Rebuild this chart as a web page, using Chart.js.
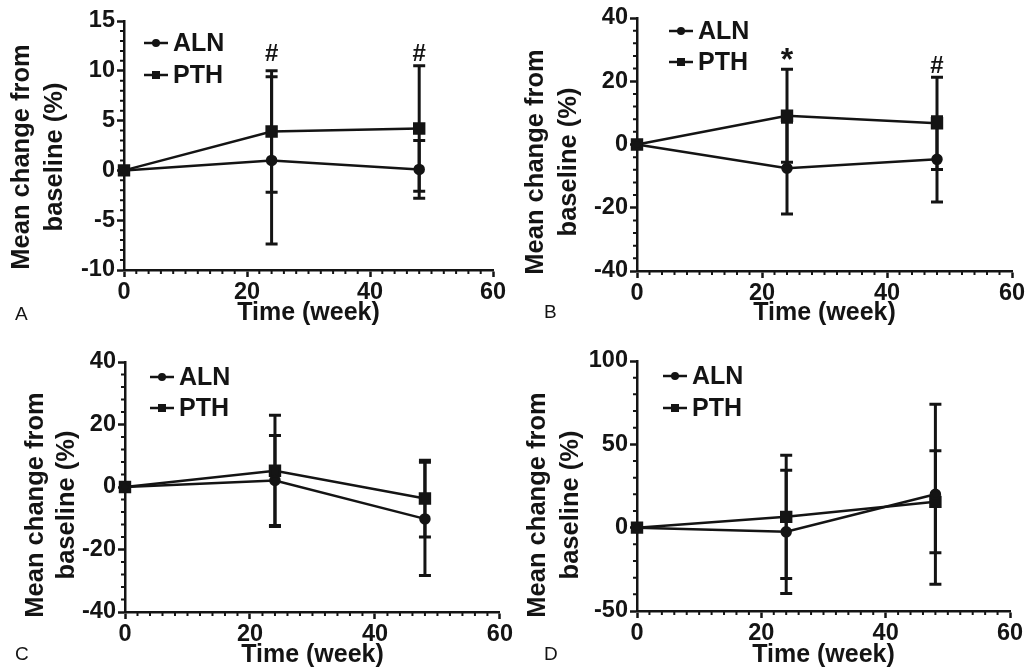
<!DOCTYPE html>
<html>
<head>
<meta charset="utf-8">
<script src="https://cdn.jsdelivr.net/npm/chart.js@4.4.1/dist/chart.umd.min.js"></script>
<style>
  html, body { margin: 0; padding: 0; background: #fff; }
  #wrap { position: relative; width: 1028px; height: 671px; }
  .panel { position: absolute; }
</style>
</head>
<body>
<div id="wrap">
  <div class="panel" style="left:0;top:0"><canvas id="chartA" width="514" height="335"></canvas></div>
  <div class="panel" style="left:514px;top:0"><canvas id="chartB" width="514" height="335"></canvas></div>
  <div class="panel" style="left:0;top:335px"><canvas id="chartC" width="514" height="336"></canvas></div>
  <div class="panel" style="left:514px;top:335px"><canvas id="chartD" width="514" height="336"></canvas></div>
</div>
<script>
// time points (weeks)
const weeks = [0, 24, 48];
const seriesNames = ['ALN', 'PTH'];

// A
const alnA = [0, 1.0, 0.1];
const alnAErr = [0, 8.4, 2.9];
const pthA = [0, 3.9, 4.2];
const pthAErr = [0, 6.1, 6.3];
const marksA = ['#', '#'];
const marksAX = [24, 48];
const marksAY = [11.6, 11.6];

// B
const alnB = [0, -7.5, -4.7];
const alnBErr = [0, 14.5, 13.5];
const pthB = [0, 9.1, 6.7];
const pthBErr = [0, 14.7, 14.6];
const marksB = ['*', '#'];
const marksBX = [24, 48];
const marksBY = [26.5, 24.6];

// C
const alnC = [0, 2.1, -10.2];
const alnCErr = [0, 14.4, 18.1];
const pthC = [0, 5.2, -3.7];
const pthCErr = [0, 17.8, 12.3];

// D
const alnD = [0, -2.5, 20.0];
const alnDErr = [0, 37, 54];
const pthD = [0, 6.5, 15.5];
const pthDErr = [0, 37, 30.6];

const INK = '#141414';
const FONT = '"Liberation Sans", Arial, Helvetica, sans-serif';

const panels = [
  { id: 'chartA', letter: 'A', aln: alnA, alnErr: alnAErr, pth: pthA, pthErr: pthAErr,
    yMin: -10, yMax: 15, yStep: 5, yMinor: 1, marks: marksA, marksX: marksAX, marksY: marksAY,
    area: { left: 124, right: 493, top: 21, bottom: 270 }, h: 335,
    yTitle: { x1: 22, x2: 55, y: 157 }, xTitlePad: 7, legend: { x: 144, y1: 43, y2: 75 }, letterPos: [15, 315] },
  { id: 'chartB', letter: 'B', aln: alnB, alnErr: alnBErr, pth: pthB, pthErr: pthBErr,
    yMin: -40, yMax: 40, yStep: 20, yMinor: 4, marks: marksB, marksX: marksBX, marksY: marksBY,
    area: { left: 123, right: 498, top: 18, bottom: 271 }, h: 335,
    yTitle: { x1: 22, x2: 55, y: 162 }, xTitlePad: 7, legend: { x: 155, y1: 31, y2: 62 }, letterPos: [30, 313] },
  { id: 'chartC', letter: 'C', aln: alnC, alnErr: alnCErr, pth: pthC, pthErr: pthCErr,
    yMin: -40, yMax: 40, yStep: 20, yMinor: 4, marks: [], marksX: [], marksY: [],
    area: { left: 125, right: 500, top: 27, bottom: 277 }, h: 336,
    yTitle: { x1: 36, x2: 67, y: 170 }, xTitlePad: 1, legend: { x: 150, y1: 42, y2: 73 }, letterPos: [15, 320] },
  { id: 'chartD', letter: 'D', aln: alnD, alnErr: alnDErr, pth: pthD, pthErr: pthDErr,
    yMin: -50, yMax: 100, yStep: 50, yMinor: 10, marks: [], marksX: [], marksY: [],
    area: { left: 123, right: 496, top: 26, bottom: 276 }, h: 336,
    yTitle: { x1: 24, x2: 57, y: 170 }, xTitlePad: 1, legend: { x: 149, y1: 41, y2: 73 }, letterPos: [30, 320] }
];

// error bars, minor ticks, legend, marks, titles
const extras = {
  id: 'extras',
  beforeDatasetsDraw(chart) {
    const { ctx, scales: { x, y } } = chart;
    ctx.save();
    ctx.strokeStyle = INK;
    ctx.lineWidth = 3;
    chart.data.datasets.forEach(ds => {
      ds.data.forEach((pt, i) => {
        const e = ds.err[i];
        if (!e) return;
        const px = x.getPixelForValue(pt.x);
        const top = y.getPixelForValue(pt.y + e);
        const bot = y.getPixelForValue(pt.y - e);
        ctx.beginPath();
        ctx.moveTo(px, top); ctx.lineTo(px, bot);
        ctx.moveTo(px - 6, top); ctx.lineTo(px + 6, top);
        ctx.moveTo(px - 6, bot); ctx.lineTo(px + 6, bot);
        ctx.stroke();
      });
    });
    ctx.restore();
  },
  afterDraw(chart, args, opts) {
    const p = opts.panel;
    const { ctx, scales: { x, y } } = chart;
    ctx.save();
    ctx.strokeStyle = INK;
    ctx.fillStyle = INK;

    // minor ticks
    ctx.lineWidth = 2;
    ctx.beginPath();
    for (let v = 0; v <= 60; v += 2) {
      if (v % 20 === 0) continue;
      const px = x.getPixelForValue(v);
      ctx.moveTo(px, y.bottom); ctx.lineTo(px, y.bottom + 4);
    }
    for (let v = p.yMin; v <= p.yMax; v += p.yMinor) {
      if (v % p.yStep === 0) continue;
      const py = y.getPixelForValue(v);
      ctx.moveTo(x.left, py); ctx.lineTo(x.left - 4, py);
    }
    ctx.stroke();

    // legend
    const lg = p.legend;
    ctx.lineWidth = 2.5;
    [lg.y1, lg.y2].forEach((ly, i) => {
      ctx.beginPath();
      ctx.moveTo(lg.x, ly); ctx.lineTo(lg.x + 24, ly);
      ctx.stroke();
      ctx.beginPath();
      if (i === 0) ctx.arc(lg.x + 12, ly, 4, 0, Math.PI * 2);
      else ctx.rect(lg.x + 8, ly - 4, 8, 8);
      ctx.fill();
      ctx.font = 'bold 25px ' + FONT;
      ctx.textBaseline = 'middle';
      ctx.textAlign = 'left';
      ctx.fillText(seriesNames[i], lg.x + 29, ly + 1);
    });

    // significance marks
    p.marks.forEach((m, i) => {
      ctx.font = (m === '*' ? 'bold 32px ' : 'bold 24px ') + FONT;
      ctx.textAlign = 'center';
      ctx.textBaseline = 'middle';
      ctx.fillText(m, x.getPixelForValue(p.marksX[i]), y.getPixelForValue(p.marksY[i]));
    });

    // y axis title
    ctx.font = 'bold 25.5px ' + FONT;
    ctx.textAlign = 'center';
    ctx.textBaseline = 'middle';
    [[p.yTitle.x1, 'Mean change from'], [p.yTitle.x2, 'baseline (%)']].forEach(([tx, t]) => {
      ctx.save();
      ctx.translate(tx, p.yTitle.y);
      ctx.rotate(-Math.PI / 2);
      ctx.fillText(t, 0, 0);
      ctx.restore();
    });

    // panel letter
    ctx.font = '19px ' + FONT;
    ctx.textAlign = 'left';
    ctx.fillText(p.letter, p.letterPos[0], p.letterPos[1]);
    ctx.restore();
  }
};

panels.forEach(p => {
  const toPts = arr => weeks.map((w, i) => ({ x: w, y: arr[i] }));
  new Chart(document.getElementById(p.id), {
    type: 'line',
    data: {
      datasets: [
        { label: 'ALN', data: toPts(p.aln), err: p.alnErr, borderColor: INK, backgroundColor: INK,
          borderWidth: 2.5, pointStyle: 'circle', pointRadius: 4.5, tension: 0, clip: false },
        { label: 'PTH', data: toPts(p.pth), err: p.pthErr, borderColor: INK, backgroundColor: INK,
          borderWidth: 2.5, pointStyle: 'rect', pointRadius: 7, tension: 0, clip: false }
      ]
    },
    options: {
      responsive: false,
      animation: false,
      events: [],
      layout: { padding: { left: 0, top: p.area.top, right: 514 - p.area.right, bottom: 0 } },
      plugins: { legend: { display: false }, tooltip: { enabled: false }, extras: { panel: p } },
      scales: {
        x: {
          type: 'linear', min: 0, max: 60,
          afterFit: s => { s.height = p.h - p.area.bottom; },
          ticks: { stepSize: 20, padding: 1, color: INK, font: { family: FONT, size: 23.5, weight: 'bold' } },
          grid: { display: true, drawOnChartArea: false, drawTicks: true, tickLength: 7, tickWidth: 2.5, tickColor: INK },
          border: { display: true, color: INK, width: 2.5 },
          title: { display: true, text: 'Time (week)', color: INK, padding: { top: 0, bottom: p.xTitlePad },
                   font: { family: FONT, size: 25, weight: 'bold' } }
        },
        y: {
          min: p.yMin, max: p.yMax,
          afterFit: s => { s.width = p.area.left; },
          ticks: { stepSize: p.yStep, padding: 2, color: INK, font: { family: FONT, size: 23.5, weight: 'bold' } },
          grid: { display: true, drawOnChartArea: false, drawTicks: true, tickLength: 7, tickWidth: 2.5, tickColor: INK },
          border: { display: true, color: INK, width: 2.5 }
        }
      }
    },
    plugins: [extras]
  });
});
</script>
</body>
</html>
